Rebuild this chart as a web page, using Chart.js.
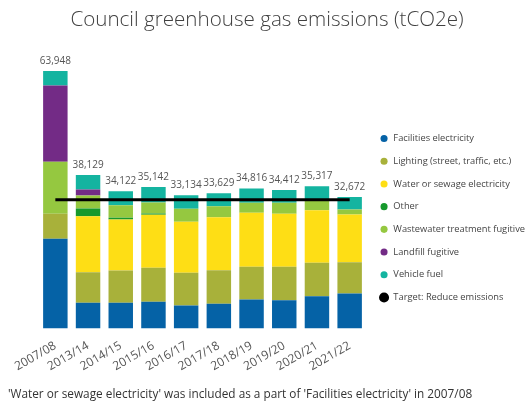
<!DOCTYPE html>
<html>
<head>
<meta charset="utf-8">
<script src="https://cdn.jsdelivr.net/npm/chart.js@4.4.1/dist/chart.umd.min.js"></script>
<style>
  html, body { margin: 0; padding: 0; background: #fff; }
  #wrap { width: 526px; height: 412px; }
</style>
</head>
<body>
<div id="wrap"><canvas id="chart"></canvas></div>
<script>
const years = ["2007/08", "2013/14", "2014/15", "2015/16", "2016/17", "2017/18", "2018/19", "2019/20", "2020/21", "2021/22"];

// tCO2e by source
const facilitiesElectricity = [22300, 6390, 6390, 6640, 5720, 6140, 7210, 7030, 8030, 8700];
const lighting = [6210, 7600, 8030, 8450, 8130, 8350, 8130, 8300, 8300, 7780];
const waterSewage = [0, 13920, 12670, 13170, 12670, 13170, 13420, 13170, 13070, 11850];
const other = [0, 1910, 420, 320, 0, 0, 0, 0, 0, 0];
const wastewaterFugitive = [12920, 3230, 3130, 2730, 3230, 2730, 2490, 2730, 2490, 1240];
const landfillFugitive = [18960, 1490, 0, 0, 0, 0, 0, 0, 0, 0];
const vehicleFuel = [3558, 3589, 3482, 3832, 3384, 3239, 3566, 3182, 3427, 3102];
const totals = [63948, 38129, 34122, 35142, 33134, 33629, 34816, 34412, 35317, 32672];
const target = [31974, 31974, 31974, 31974, 31974, 31974, 31974, 31974, 31974, 31974];

const footnote = "'Water or sewage electricity' was included as a part of 'Facilities electricity' in 2007/08";
const fontFamily = "'Open Sans', 'Noto Sans', sans-serif";

function barSet(label, data, color) {
  return {
    type: "bar",
    label: label,
    data: data,
    backgroundColor: color,
    borderWidth: 0,
    barPercentage: 0.85,
    categoryPercentage: 0.88,
    order: 1,
  };
}

// totals above each stack
const totalsPlugin = {
  id: "totals",
  afterDatasetsDraw(chart) {
    const { ctx, scales } = chart;
    ctx.save();
    ctx.font = "10px " + fontFamily;
    ctx.fillStyle = "#555";
    ctx.textAlign = "center";
    ctx.textBaseline = "bottom";
    totals.forEach((t, i) => {
      ctx.fillText(t.toLocaleString("en-US"), scales.x.getPixelForValue(i), scales.y.getPixelForValue(t) - 5);
    });
    ctx.restore();
  },
};

new Chart(document.getElementById("chart"), {
  data: {
    labels: years,
    datasets: [
      barSet("Facilities electricity", facilitiesElectricity, "#0562a6"),
      barSet("Lighting (street, traffic, etc.)", lighting, "#a8b13a"),
      barSet("Water or sewage electricity", waterSewage, "#fede15"),
      barSet("Other", other, "#16992c"),
      barSet("Wastewater treatment fugitive", wastewaterFugitive, "#95c840"),
      barSet("Landfill fugitive", landfillFugitive, "#732b86"),
      barSet("Vehicle fuel", vehicleFuel, "#14b4a0"),
      {
        type: "line",
        label: "Target: Reduce emissions",
        data: target,
        borderColor: "#000",
        backgroundColor: "#000",
        borderWidth: 3,
        pointRadius: 0,
        stack: "target",
        order: 0,
      },
    ],
  },
  options: {
    responsive: true,
    maintainAspectRatio: false,
    animation: false,
    layout: { padding: { left: 8, right: 0, top: 0, bottom: 0 } },
    scales: {
      x: {
        stacked: true,
        grid: { display: false },
        border: { display: false },
        ticks: {
          color: "#555",
          font: { family: fontFamily, size: 12 },
          minRotation: 30,
          maxRotation: 30,
          autoSkip: false,
          padding: 2,
        },
      },
      y: {
        stacked: true,
        min: 0,
        max: 69000,
        grid: { display: false },
        border: { display: false },
        ticks: { display: false },
        afterFit: (s) => { s.width = 31; },
      },
    },
    plugins: {
      title: {
        display: true,
        text: "Council greenhouse gas emissions (tCO2e)",
        color: "#404040",
        font: { family: fontFamily, size: 20.6, weight: "300" },
        padding: { top: 8, bottom: 18 },
      },
      subtitle: {
        display: true,
        position: "bottom",
        align: "start",
        text: footnote,
        color: "#333",
        font: { family: fontFamily, size: 11.8 },
        padding: { top: 12, bottom: 10 },
      },
      legend: {
        position: "right",
        maxWidth: 160,
        // empty title only nudges the items down
        title: { display: true, text: "", font: { size: 10 }, padding: 6 },
        labels: {
          usePointStyle: true,
          pointStyle: "circle",
          boxWidth: 10,
          boxHeight: 5,
          padding: 13.4,
          color: "#444",
          font: { family: fontFamily, size: 9.3 },
          sort: (a, b) => a.datasetIndex - b.datasetIndex,
        },
      },
      tooltip: { enabled: false },
    },
  },
  plugins: [totalsPlugin],
});
</script>
</body>
</html>
